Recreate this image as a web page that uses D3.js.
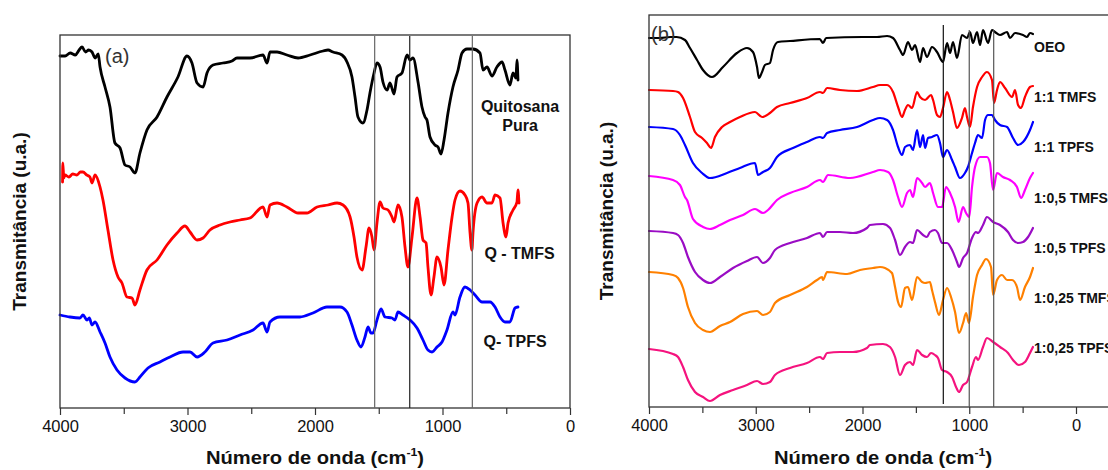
<!DOCTYPE html>
<html><head><meta charset="utf-8">
<script src="https://cdn.jsdelivr.net/npm/d3@7"></script>
<style>
body{margin:0;background:#fff;}
svg{display:block;font-family:"Liberation Sans",Arial,sans-serif;}
</style></head>
<body>
<svg id="chart" width="1108" height="470"></svg>
<script>
// ---------- DATA (wavenumber cm-1, transmittance a.u. offset) ----------
const majorTicks = [4000, 3000, 2000, 1000, 0];
const minorTicks = [3500, 2500, 1500, 500];

// Panel (a)
const quitosanaPura = [[4000,352],[3960,352],[3920,355],[3880,353],[3850,358],[3827,361],[3800,356],[3775,358],[3749,356],[3725,350],[3700,354],[3686,341],[3647,321],[3608,301],[3569,265],[3529,260],[3490,243],[3451,241],[3412,235],[3373,255],[3318,278],[3239,291],[3161,311],[3075,331],[3004,352],[2965,345],[2925,325],[2878,321],[2847,335],[2800,343],[2722,345],[2651,347],[2612,350],[2510,350],[2408,353],[2376,345],[2353,356],[2298,356],[2220,353],[2133,350],[2039,353],[1937,357],[1898,358],[1859,356],[1788,353],[1749,346],[1710,331],[1686,311],[1663,291],[1624,285],[1592,298],[1569,315],[1537,335],[1514,345],[1490,341],[1467,326],[1435,318],[1412,325],[1380,314],[1357,331],[1318,335],[1278,353],[1255,348],[1231,350],[1192,326],[1161,301],[1137,291],[1122,288],[1098,271],[1059,263],[1035,261],[1012,254],[988,268],[957,295],[918,321],[878,338],[847,355],[808,359],[761,359],[706,355],[682,338],[651,341],[612,332],[573,341],[533,346],[510,338],[471,323],[447,335],[424,330],[416,348],[408,328]];
const qTMFS = [[3980,226],[3978,245],[3970,230],[3961,233],[3930,231],[3900,234],[3867,233],[3840,236],[3820,236],[3790,233],[3765,231],[3749,225],[3725,233],[3686,221],[3663,208],[3624,178],[3584,148],[3545,131],[3514,125],[3475,111],[3435,110],[3412,103],[3373,118],[3318,138],[3239,148],[3161,163],[3082,175],[3020,182],[2980,176],[2925,168],[2878,170],[2824,178],[2745,183],[2667,186],[2588,188],[2510,190],[2408,201],[2376,191],[2353,203],[2298,205],[2220,201],[2133,195],[2063,195],[1984,201],[1898,203],[1827,205],[1780,203],[1725,191],[1694,171],[1671,151],[1631,138],[1600,161],[1576,180],[1553,171],[1537,158],[1514,185],[1490,206],[1467,200],[1427,198],[1396,191],[1380,186],[1349,203],[1318,191],[1294,161],[1271,141],[1239,171],[1200,210],[1176,191],[1153,168],[1129,165],[1114,141],[1090,113],[1067,131],[1043,151],[1012,141],[988,123],[957,158],[925,191],[902,208],[863,217],[824,213],[800,205],[784,175],[769,158],[761,175],[729,205],[690,211],[651,205],[612,205],[588,213],[549,210],[525,185],[502,171],[486,185],[447,198],[416,206],[408,218],[400,205]];
const qTPFS = [[4000,93],[3922,91],[3843,90],[3820,93],[3788,88],[3770,90],[3749,83],[3725,86],[3686,76],[3647,65],[3608,51],[3553,38],[3490,30],[3412,26],[3373,31],[3310,40],[3216,46],[3137,51],[3035,56],[2980,56],[2925,51],[2863,56],[2800,65],[2690,68],[2588,73],[2486,78],[2408,85],[2376,76],[2353,86],[2275,91],[2196,91],[2118,91],[2016,95],[1906,101],[1882,101],[1804,101],[1749,96],[1710,83],[1671,68],[1639,61],[1608,71],[1584,81],[1561,75],[1545,75],[1514,88],[1482,99],[1451,91],[1396,90],[1373,88],[1349,96],[1310,93],[1255,88],[1200,80],[1153,68],[1114,58],[1082,56],[1043,61],[1004,66],[965,78],[918,96],[902,93],[863,111],[824,121],[784,118],[745,113],[690,106],[627,106],[588,101],[549,91],[510,86],[471,86],[431,100],[408,101]];

// Panel (b)
const oeo = [[4000,369],[3900,369],[3800,370],[3741,370],[3663,367],[3616,359],[3550,347],[3494,337],[3410,330],[3307,340],[3176,354],[3082,359],[3026,355],[2988,340],[2970,329],[2941,335],[2914,342],[2867,344],[2838,357],[2792,365],[2679,366],[2400,368],[2370,364],[2340,369],[2000,370],[1864,370],[1770,371],[1714,369],[1649,357],[1620,352],[1574,365],[1536,357],[1508,362],[1461,345],[1433,359],[1396,350],[1349,360],[1302,355],[1246,345],[1208,364],[1180,354],[1152,365],[1115,349],[1068,372],[1021,369],[993,375],[965,364],[927,375],[899,362],[871,377],[824,364],[787,377],[759,375],[712,372],[646,375],[618,369],[571,374],[496,372],[459,370],[431,374],[403,373]];
const tmfs11 = [[4000,317],[3775,316],[3728,315],[3681,309],[3616,290],[3569,275],[3503,269],[3457,264],[3419,259],[3382,270],[3316,280],[3241,285],[3148,290],[3007,295],[2941,290],[2867,294],[2801,300],[2679,304],[2520,309],[2398,315],[2370,314],[2332,319],[2211,317],[2051,316],[1902,320],[1836,322],[1770,322],[1714,315],[1667,300],[1630,290],[1602,297],[1574,302],[1536,299],[1489,315],[1461,310],[1414,307],[1358,312],[1339,307],[1302,292],[1274,290],[1246,299],[1208,315],[1180,307],[1152,295],[1115,279],[1068,289],[1040,299],[1021,290],[993,280],[965,300],[927,320],[880,330],[834,335],[787,327],[768,304],[740,317],[712,325],[665,319],[599,310],[571,317],[543,302],[515,299],[478,310],[431,320],[403,321]];
const tpfs11 = [[4000,280],[3775,278],[3710,272],[3663,262],[3588,244],[3503,234],[3429,229],[3269,234],[3148,239],[3007,244],[2979,232],[2932,235],[2867,239],[2801,250],[2651,259],[2520,265],[2398,270],[2370,269],[2332,274],[2211,277],[2051,280],[1902,287],[1836,289],[1770,287],[1714,277],[1667,260],[1630,252],[1602,260],[1555,262],[1527,257],[1489,277],[1461,260],[1433,272],[1414,259],[1386,269],[1349,270],[1302,272],[1274,264],[1246,250],[1208,257],[1161,247],[1133,240],[1087,229],[1040,234],[1012,240],[974,254],[946,264],[918,272],[880,269],[852,287],[824,292],[787,292],[759,287],[712,282],[646,280],[590,269],[543,262],[496,265],[431,277],[403,285]];
const tmfs105 = [[4000,231],[3775,227],[3710,222],[3663,210],[3644,207],[3588,188],[3494,180],[3429,178],[3335,182],[3241,187],[3119,192],[3007,198],[2932,194],[2885,197],[2801,207],[2679,214],[2520,220],[2398,227],[2370,225],[2323,232],[2117,229],[1902,235],[1836,237],[1761,235],[1714,227],[1667,210],[1630,200],[1583,214],[1555,217],[1527,210],[1489,229],[1442,224],[1414,220],[1368,224],[1339,214],[1293,200],[1255,200],[1218,220],[1180,214],[1133,200],[1100,185],[1058,200],[1030,194],[1000,190],[974,220],[946,240],[899,250],[834,250],[806,244],[777,217],[740,234],[684,230],[618,227],[553,220],[515,209],[478,217],[431,229],[403,234]];
const tpfs105 = [[4000,176],[3775,174],[3728,172],[3681,164],[3635,150],[3569,135],[3494,127],[3429,124],[3335,130],[3213,139],[3082,146],[2988,150],[2932,144],[2867,149],[2820,157],[2679,164],[2520,169],[2398,174],[2370,170],[2332,175],[2211,175],[2089,174],[1958,179],[1930,182],[1808,183],[1742,179],[1695,167],[1649,152],[1602,160],[1555,165],[1527,164],[1489,177],[1433,172],[1396,170],[1368,175],[1321,177],[1293,174],[1255,164],[1208,164],[1161,157],[1115,145],[1096,140],[1058,149],[1021,154],[974,169],[937,175],[918,174],[871,182],[834,190],[777,185],[712,182],[637,175],[590,167],[543,164],[496,165],[449,170],[403,179]];
const tmfs1025 = [[4000,135],[3775,132],[3728,129],[3681,119],[3635,100],[3569,84],[3494,77],[3429,75],[3335,81],[3241,85],[3119,93],[2988,96],[2932,92],[2867,95],[2820,104],[2679,112],[2520,120],[2426,127],[2379,130],[2370,127],[2332,135],[2145,133],[2023,137],[1902,139],[1836,140],[1789,139],[1724,134],[1695,120],[1667,105],[1639,100],[1602,119],[1574,120],[1536,107],[1489,130],[1442,125],[1414,124],[1368,125],[1349,117],[1321,105],[1283,92],[1246,107],[1208,119],[1171,110],[1133,95],[1096,74],[1058,84],[1030,94],[1002,84],[965,110],[927,132],[880,142],[843,148],[796,140],[777,112],[740,127],[693,132],[646,127],[599,127],[553,120],[524,107],[478,120],[431,130],[403,139]];
const tpfs1025 = [[4000,58],[3775,53],[3728,50],[3681,40],[3635,27],[3569,15],[3494,10],[3429,6],[3335,12],[3213,17],[3082,22],[2988,26],[2932,23],[2867,25],[2820,32],[2679,39],[2520,44],[2398,50],[2370,48],[2332,54],[2211,55],[2089,55],[1958,59],[1930,62],[1808,63],[1742,60],[1695,50],[1649,32],[1602,42],[1555,45],[1527,42],[1489,57],[1442,52],[1396,50],[1358,54],[1321,52],[1293,49],[1255,37],[1208,35],[1161,30],[1124,20],[1096,15],[1058,22],[1021,25],[974,40],[937,50],[918,47],[871,60],[834,69],[777,65],[712,60],[637,54],[590,47],[534,42],[478,45],[431,54],[403,60]];

const seriesA = [
  {name:"Quitosana Pura", data:quitosanaPura, color:"#000000"},
  {name:"Q - TMFS", data:qTMFS, color:"#ff0000"},
  {name:"Q- TPFS", data:qTPFS, color:"#0000ff"}
];
const labelsA = [
  {text:"Quitosana", wn:392, v:296},
  {text:"Pura", wn:392, v:277},
  {text:"Q - TMFS", wn:396, v:149},
  {text:"Q- TPFS", wn:431, v:61}
];
const vlinesA = [1532, 1257, 766];

const seriesB = [
  {name:"OEO", data:oeo, color:"#000000"},
  {name:"1:1 TMFS", data:tmfs11, color:"#ff0000"},
  {name:"1:1 TPFS", data:tpfs11, color:"#0000ff"},
  {name:"1:0,5 TMFS", data:tmfs105, color:"#ff00ff"},
  {name:"1:0,5 TPFS", data:tpfs105, color:"#9a0cc4"},
  {name:"1:0,25 TMFS", data:tmfs1025, color:"#ff8000"},
  {name:"1:0,25 TPFS", data:tpfs1025, color:"#f5137e"}
];
const labelValuesB = [355, 305, 255, 204, 154, 104, 54];
const vlinesB = [[1243,382,3],[1000,377,0],[771,377,0]];

// ---------- DRAW ----------
const svg = d3.select("#chart");

function panel(opt){
  const x = d3.scaleLinear().domain([4000,0]).range([opt.x0, opt.x1]);
  const y = d3.scaleLinear().domain([0, opt.vmax]).range([opt.y1, opt.y0]);
  const g = svg.append("g");

  const line = d3.line().x(d=>x(d[0])).y(d=>y(d[1])).curve(d3.curveMonotoneX);
  opt.series.forEach(s=>{
    g.append("path").attr("d", line(s.data)).attr("fill","none")
      .attr("stroke", s.color).attr("stroke-width", opt.lw)
      .attr("stroke-linejoin","round").attr("stroke-linecap","round");
  });

  const xr = x(opt.frameRight);
  g.append("rect").attr("x", opt.x0).attr("y", opt.y0)
    .attr("width", xr - opt.x0).attr("height", opt.y1 - opt.y0)
    .attr("fill","none").attr("stroke","#333").attr("stroke-width",1.3);

  const ax = g.append("g").attr("transform",`translate(0,${opt.y1})`)
    .call(d3.axisBottom(x).tickValues(majorTicks).tickSize(7).tickPadding(5).tickFormat(d3.format("d")));
  ax.select(".domain").remove();
  ax.selectAll("line").attr("stroke","#333").attr("stroke-width",1.2);
  ax.selectAll("text").attr("font-size","16.5px").attr("fill","#111")
    .attr("font-family","'Liberation Sans',Arial,sans-serif");
  const axm = g.append("g").attr("transform",`translate(0,${opt.y1})`)
    .call(d3.axisBottom(x).tickValues(minorTicks).tickSize(6).tickFormat(""));
  axm.select(".domain").remove();
  axm.selectAll("line").attr("stroke","#333").attr("stroke-width",1.2);

  const cx = (opt.x0 + xr)/2;
  const t = g.append("g").attr("transform",`translate(${cx},464) scale(1.12,1)`)
    .append("text").attr("x",0).attr("y",0).attr("text-anchor","middle")
    .attr("font-size","18px").attr("font-weight","bold").attr("fill","#111");
  t.append("tspan").text("Número de onda (cm");
  t.append("tspan").text("-1").attr("font-size","11px").attr("dy","-8");
  t.append("tspan").text(")").attr("dy","8");

  g.append("text").attr("transform",`translate(${opt.ytx},${(opt.y0+opt.y1)/2}) rotate(-90)`)
    .attr("text-anchor","middle").attr("font-size","19px").attr("font-weight","bold")
    .attr("fill","#111").text("Transmitância (u.a.)");
  return {x, y, g};
}

// Panel (a)
const A = panel({x0:60, x1:570, y0:35, y1:408, vmax:373, series:seriesA, lw:2.8, frameRight:0, ytx:26});
vlinesA.forEach((w,i)=>{
  A.g.append("line").attr("x1",A.x(w)).attr("x2",A.x(w)).attr("y1",A.y(372)).attr("y2",A.y(0))
    .attr("stroke", i===1 ? "#222" : "#666").attr("stroke-width",1.2);
});
labelsA.forEach(l=>{
  A.g.append("text").attr("x",A.x(l.wn)).attr("y",A.y(l.v)).attr("text-anchor","middle")
    .attr("font-size","16px").attr("font-weight","bold").attr("fill","#111").text(l.text);
});
A.g.append("text").attr("x",105).attr("y",63).attr("font-size","20px").attr("fill","#333").text("(a)");

// Panel (b)
const B = panel({x0:649, x1:1076, y0:15, y1:407, vmax:392, series:seriesB, lw:2.2, frameRight:-385, ytx:613});
vlinesB.forEach((v,i)=>{
  B.g.append("line").attr("x1",B.x(v[0])).attr("x2",B.x(v[0])).attr("y1",B.y(v[1])).attr("y2",B.y(v[2]))
    .attr("stroke", i===0 ? "#111" : "#555").attr("stroke-width",1.2);
});
seriesB.forEach((s,i)=>{
  B.g.append("text").attr("x",B.x(393)).attr("y",B.y(labelValuesB[i]))
    .attr("font-size","14px").attr("font-weight","bold").attr("fill","#111").text(s.name);
});
B.g.append("text").attr("x",651).attr("y",41).attr("font-size","20px").attr("fill","#333").text("(b)");
</script>
</body></html>
